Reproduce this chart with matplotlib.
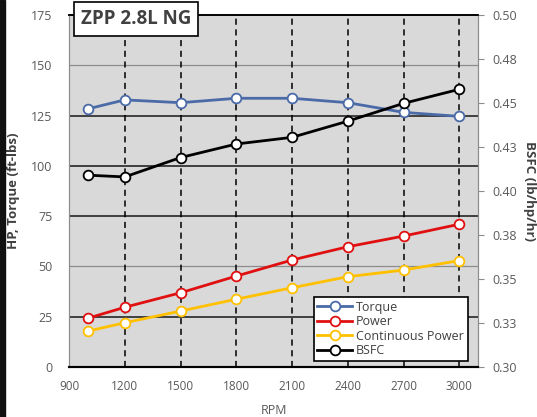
import matplotlib
matplotlib.use('Agg')
import matplotlib.pyplot as plt
from matplotlib.patches import Rectangle

plt.rcParams['font.family'] = ['Open Sans', 'DejaVu Sans']

# data
rpm = [1000, 1200, 1500, 1800, 2100, 2400, 2700, 3000]
torque = [128.3, 132.8, 131.4, 133.6, 133.6, 131.4, 126.6, 124.6]
power = [24.2, 29.7, 36.9, 45.2, 53.2, 59.8, 65.1, 71.0]
cont_power = [17.8, 22.0, 27.8, 33.7, 39.4, 44.9, 48.2, 52.9]
bsfc = [0.409, 0.408, 0.419, 0.4267, 0.4305, 0.4397, 0.4498, 0.4578]

x_ticks = [900, 1200, 1500, 1800, 2100, 2400, 2700, 3000]
left_ticks = [0, 25, 50, 75, 100, 125, 150, 175]
right_ticks = [0.30, 0.325, 0.35, 0.375, 0.40, 0.425, 0.45, 0.475, 0.50]
right_labels = ['0.30', '0.33', '0.35', '0.38', '0.40', '0.43', '0.45', '0.48', '0.50']

fig = plt.figure(figsize=(5.37, 4.17), dpi=100)
ax = fig.add_axes([69/537, 1-367/417, (478-69)/537, (367-15)/417])
ax.set_facecolor('#d9d9d9')
ax.set_xlim(900, 3100)
ax.set_ylim(0, 175)

# horizontal grid lines
for v in [25, 75, 100, 125]:
    ax.axhline(v, color='#262626', lw=1.2, zorder=1)
for v in [50, 150]:
    ax.axhline(v, color='#8c8c8c', lw=0.9, zorder=1)
# vertical dashed lines
for v in x_ticks[1:]:
    ax.axvline(v, color='black', lw=1.1, ls=(0, (4, 3)), zorder=1)

mk = dict(marker='o', markersize=7, markerfacecolor='white', markeredgewidth=1.3, lw=2, zorder=3)
l1, = ax.plot(rpm, torque, color='#4a6aa8', markeredgecolor='#4a6aa8', label='Torque', **mk)
l2, = ax.plot(rpm, power, color='#e01010', markeredgecolor='#e01010', label='Power', **mk)
l3, = ax.plot(rpm, cont_power, color='#ffc000', markeredgecolor='#ffc000', label='Continuous Power', **mk)

ax2 = ax.twinx()
ax2.set_ylim(0.30, 0.50)
l4, = ax2.plot(rpm, bsfc, color='black', markeredgecolor='black', label='BSFC', **mk)

ax.set_xticks(x_ticks)
ax.set_xticklabels([str(v) for v in x_ticks], fontsize=8.5, color='#595959')
ax.set_yticks(left_ticks)
ax.set_yticklabels([str(v) for v in left_ticks], fontsize=9, color='#595959')
ax.tick_params(axis='x', length=0, pad=9)
ax.tick_params(axis='y', length=0, pad=12)
ax2.set_yticks(right_ticks)
ax2.set_yticklabels(right_labels, fontsize=9, color='#595959')
ax2.tick_params(axis='y', length=4, color='#8c8c8c', pad=6)

for a in (ax, ax2):
    a.spines['top'].set_color('black')
    a.spines['top'].set_linewidth(1.2)
    a.spines['bottom'].set_color('black')
    a.spines['bottom'].set_linewidth(1.5)
    a.spines['left'].set_color('#8c8c8c')
    a.spines['right'].set_color('#8c8c8c')

ax.set_xlabel('RPM', fontsize=9, color='#595959', labelpad=8)
ax.set_ylabel('HP, Torque (ft-lbs)', fontsize=9.5, color='#404040', fontweight='bold', labelpad=8)
ax2.set_ylabel('BSFC (lb/hp/hr)', fontsize=9.5, color='#404040', fontweight='bold', rotation=270, labelpad=14)

leg = ax2.legend(handles=[l1, l2, l3, l4], loc='lower right', bbox_to_anchor=(0.99, 0.0),
                 fontsize=9, frameon=True, fancybox=False, framealpha=1, edgecolor='black',
                 handlelength=2.8, borderpad=0.3, labelspacing=0.12, handletextpad=0.3)
leg.get_frame().set_linewidth(1.2)
for t in leg.get_texts():
    t.set_color('#404040')

# title box with shadow
fig.text(136/537, 1-19/417, 'ZPP 2.8L NG', ha='center', va='center', fontsize=13.5,
         fontweight='bold', color='#404040',
         bbox=dict(boxstyle='square,pad=0.35', fc='white', ec='black', lw=1.2))

# dark strip on the left edge
fig.patches.append(Rectangle((0, 0), 5/537, 1, transform=fig.transFigure, color='#111111', zorder=0))

fig.savefig('out.png', dpi=100)
